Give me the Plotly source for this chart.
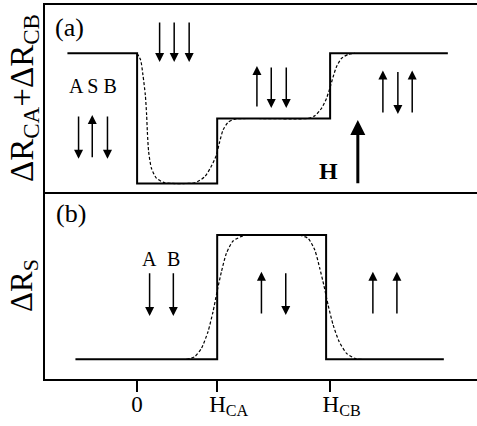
import plotly.graph_objects as go

FONT = "Liberation Serif, Times New Roman, DejaVu Serif, serif"

# ---------------- data (x in field units: 0, H_CA, H_CB) ----------------
H_CA = 1.0
H_CB = 2.41
H_CB_S = 2.36          # step position of the drop in panel (b)

tick_vals = [0, H_CA, H_CB]
tick_text = ["0",
             "&nbsp;&nbsp;&nbsp;&nbsp;H<sub>CA</sub>",
             "&nbsp;&nbsp;&nbsp;&nbsp;H<sub>CB</sub>"]

# panel (a): ideal steps of dR_CA + dR_CB (levels 1 / 0 / 0.5 / 1)
a_x = [-0.87, 0.0, 0.0, H_CA, H_CA, H_CB, H_CB, 3.88]
a_y = [1.0, 1.0, 0.0, 0.0, 0.5, 0.5, 1.0, 1.0]

# panel (a): smeared (dashed) curve
a_dash_x = [0.0, 0.044, 0.073, 0.103, 0.119, 0.128, 0.144, 0.178, 0.24, 0.344, 0.72,
            0.844, 0.935, 0.99, 1.031, 1.073, 1.135, 1.219, 2.135, 2.219, 2.303,
            2.365, 2.406, 2.448, 2.49, 2.553, 2.635, 2.72]
a_dash_y = [1.0, 0.949, 0.833, 0.678, 0.526, 0.398, 0.244, 0.119, 0.042, 0.006, 0.006,
            0.052, 0.142, 0.219, 0.321, 0.411, 0.47, 0.495, 0.5, 0.52, 0.578,
            0.654, 0.731, 0.82, 0.897, 0.962, 0.992, 1.0]

# panel (b): ideal dR_S
b_x = [-0.77, H_CA, H_CA, H_CB_S, H_CB_S, 3.83]
b_y = [0.0, 0.0, 1.0, 1.0, 0.0, 0.0]

b_dash_x = [0.615, 0.719, 0.803, 0.885, 0.948, 0.998, 1.053, 1.115, 1.198, 1.323, 1.385,
            2.01, 2.135, 2.219, 2.281, 2.331, 2.385, 2.448, 2.523, 2.615, 2.719, 2.803]
b_dash_y = [0.0, 0.021, 0.088, 0.222, 0.383, 0.544, 0.705, 0.853, 0.952, 0.994, 1.0,
            1.0, 0.973, 0.879, 0.732, 0.598, 0.437, 0.276, 0.142, 0.048, 0.008, 0.0]

# small magnetisation arrows: (x, y_tail, y_tip)
a_arrows = [(-0.731, 0.526, 0.19), (-0.56, 0.19, 0.526), (-0.37, 0.526, 0.19),
            (0.281, 1.248, 0.933), (0.463, 1.248, 0.933), (0.65, 1.248, 0.933),
            (1.496, 0.58, 0.9025), (1.675, 0.9025, 0.58), (1.8625, 0.9025, 0.58),
            (3.069, 0.534, 0.868), (3.256, 0.868, 0.534), (3.435, 0.534, 0.868)]
b_arrows = [(0.156, 0.705, 0.348), (0.4525, 0.705, 0.348),
            (1.5525, 0.356, 0.705), (1.856, 0.705, 0.356),
            (2.944, 0.356, 0.705), (3.244, 0.356, 0.705)]
H_arrow = (2.756, -0.01, 0.488)

# ---------------- figure ----------------
fig = go.Figure()
solid = dict(color="black", width=2)
dashed = dict(color="black", width=1.2, dash="3px,2px")

fig.add_trace(go.Scatter(x=a_x, y=a_y, mode="lines", line=solid, xaxis="x2", yaxis="y2"))
fig.add_trace(go.Scatter(x=a_dash_x, y=a_dash_y, mode="lines", line=dict(dashed, shape="spline", smoothing=0.6),
                         xaxis="x2", yaxis="y2"))
fig.add_trace(go.Scatter(x=b_x, y=b_y, mode="lines", line=solid, xaxis="x", yaxis="y"))
fig.add_trace(go.Scatter(x=b_dash_x, y=b_dash_y, mode="lines", line=dict(dashed, shape="spline", smoothing=0.6),
                         xaxis="x", yaxis="y"))

ann = []


def arrow(x, y0, y1, xr, yr, width=1.5, size=1.2):
    ann.append(dict(x=x, y=y1, ax=x, ay=y0, xref=xr, yref=yr, axref=xr, ayref=yr,
                    text="", showarrow=True, arrowhead=2, arrowsize=size,
                    arrowwidth=width, arrowcolor="black", standoff=0, startstandoff=0))


for x, t0, t1 in a_arrows:
    arrow(x, t0, t1, "x2", "y2")
for x, t0, t1 in b_arrows:
    arrow(x, t0, t1, "x", "y")
arrow(H_arrow[0], H_arrow[1], H_arrow[2], "x2", "y2", width=3, size=1.0)


def text(x, y, s, xr, yr, size, **kw):
    ann.append(dict(x=x, y=y, xref=xr, yref=yr, text=s, showarrow=False,
                    font=dict(family=FONT, size=size, color="black"),
                    xanchor="center", yanchor="middle", **kw))


text(-0.844, 1.198, "(a)", "x2", "y2", 26)
text(-0.555, 0.75, "A S B", "x2", "y2", 20)
text(2.394, 0.096, "<b>H</b>", "x2", "y2", 24)
text(-0.83, 1.177, "(b)", "x", "y", 26)
text(0.156, 0.805, "A", "x", "y", 20)
text(0.4525, 0.805, "B", "x", "y", 20)

text(-0.048, 0.752, "ΔR<sub>CA</sub>+ΔR<sub>CB</sub>", "paper", "paper", 33, textangle=-90)
text(-0.05, 0.25, "ΔR<sub>S</sub>", "paper", "paper", 31, textangle=-90)

common = dict(showgrid=False, zeroline=False, automargin=False)

fig.update_layout(
    template="none",
    width=477, height=426,
    margin=dict(l=45, r=0, t=5, b=47, pad=0),
    paper_bgcolor="white", plot_bgcolor="white",
    showlegend=False,
    font=dict(family=FONT, color="black"),
    annotations=ann,
    xaxis=dict(domain=[0, 1], range=[-1.15, 4.244], anchor="y",
               showline=True, linecolor="black", linewidth=2, mirror=False,
               ticks="outside", ticklen=11, tickwidth=2, tickcolor="black",
               ticklabelstandoff=-8,
               tickvals=tick_vals, ticktext=tick_text,
               tickfont=dict(family=FONT, size=23, color="black"), **common),
    xaxis2=dict(domain=[0, 1], range=[-1.15, 4.244], anchor="y2", matches="x",
                showline=True, linecolor="black", linewidth=2, mirror=True,
                showticklabels=False, ticks="", **common),
    yaxis=dict(domain=[0, 0.5], range=[-0.158, 1.346], anchor="x",
               showline=True, linecolor="black", linewidth=2,
               showticklabels=False, ticks="", **common),
    yaxis2=dict(domain=[0.5, 1], range=[-0.065, 1.371], anchor="x2",
                showline=True, linecolor="black", linewidth=2,
                showticklabels=False, ticks="", **common),
)

fig.write_html(
    "out.html",
    config={"displayModeBar": False},
    post_script="document.body.style.margin='0';document.body.style.overflow='hidden';",
)
